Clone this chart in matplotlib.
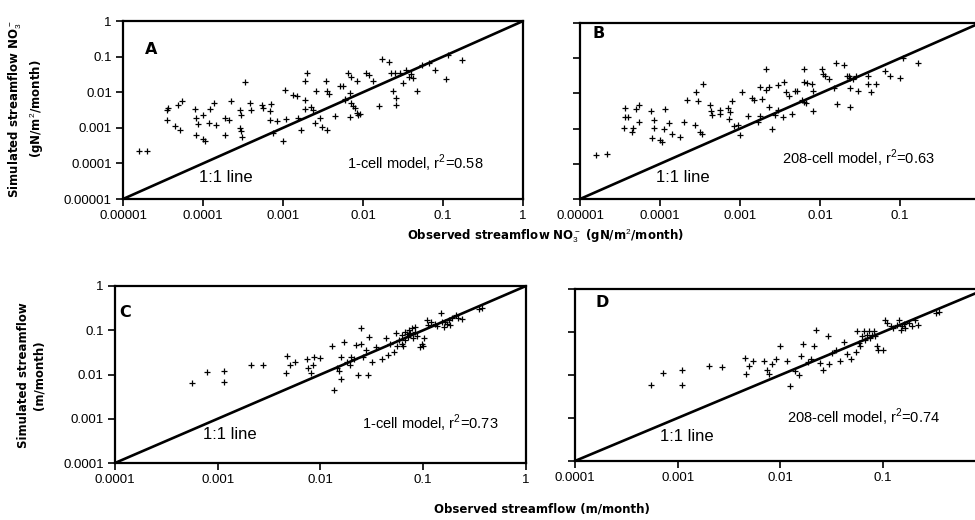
import numpy as np
import matplotlib
matplotlib.use("Agg")
import matplotlib.pyplot as plt

# --- data ---------------------------------------------------------------
# panel A: 1-cell model, NO3 (gN/m2/month)
obs_a = [1.6e-5, 2.0e-5, 3.6e-5, 3.5e-5, 4.9e-5, 5.5e-5, 3.5e-5, 4.5e-5, 5.2e-5, 7.9e-5,
         8.1e-5, 8.7e-5, 1.0e-4, 8.1e-5, 1.0e-4, 1.05e-4, 1.23e-4, 1.38e-4, 1.19e-4, 1.45e-4,
         1.86e-4, 2.1e-4, 1.86e-4, 2.24e-4, 2.9e-4, 3.0e-4, 2.9e-4, 3.0e-4, 3.1e-4, 3.3e-4,
         3.9e-4, 4.0e-4, 5.5e-4, 5.6e-4, 6.8e-4, 7.1e-4, 6.9e-4, 8.3e-4, 7.5e-4, 1.0e-3,
         1.05e-3, 1.1e-3, 1.35e-3, 1.48e-3, 1.55e-3, 1.7e-3, 1.86e-3, 1.9e-3, 1.9e-3, 2.0e-3,
         2.24e-3, 2.4e-3, 2.6e-3, 2.5e-3, 2.9e-3, 3.1e-3, 3.4e-3, 3.5e-3, 3.8e-3, 3.5e-3,
         4.5e-3, 5.1e-3, 5.6e-3, 5.9e-3, 6.5e-3, 6.8e-3, 7.1e-3, 7.5e-3, 7.9e-3, 8.3e-3,
         8.3e-3, 8.7e-3, 6.8e-3, 9.1e-3, 1.1e-2, 1.2e-2, 1.33e-2, 1.6e-2, 1.7e-2, 2.1e-2,
         2.24e-2, 2.4e-2, 2.5e-2, 2.6e-2, 2.6e-2, 2.9e-2, 3.2e-2, 3.4e-2, 3.8e-2, 4.2e-2,
         4.0e-2, 4.7e-2, 5.4e-2, 6.7e-2, 7.9e-2, 0.11, 0.115, 0.17, 6.0e-3, 7.0e-3]
sim_a = [2.2e-4, 2.2e-4, 3.5e-3, 3.2e-3, 4.4e-3, 5.5e-3, 1.7e-3, 1.15e-3, 8.7e-4, 3.3e-3,
         1.9e-3, 1.26e-3, 2.3e-3, 6.3e-4, 4.7e-4, 4.2e-4, 3.3e-3, 5.1e-3, 1.35e-3, 1.2e-3,
         1.86e-3, 1.66e-3, 6.3e-4, 5.5e-3, 3.2e-3, 2.3e-3, 1.0e-3, 7.9e-4, 5.5e-4, 1.9e-2,
         5.1e-3, 3.2e-3, 4.4e-3, 3.5e-3, 2.9e-3, 4.7e-3, 1.66e-3, 1.6e-3, 7.1e-4, 4.2e-4,
         1.17e-2, 1.74e-3, 8.5e-3, 7.6e-3, 1.86e-3, 8.5e-4, 6.2e-3, 3.3e-3, 2.0e-2, 3.4e-2,
         3.8e-3, 3.2e-3, 1.05e-2, 1.35e-3, 1.86e-3, 1.07e-3, 2.1e-2, 1.05e-2, 8.9e-3, 8.7e-4,
         2.1e-3, 1.45e-2, 1.45e-2, 6.2e-3, 3.5e-2, 9.3e-3, 2.75e-2, 4.0e-3, 3.5e-3, 2.0e-2,
         2.6e-3, 2.3e-3, 2.0e-3, 2.4e-3, 3.4e-2, 3.1e-2, 2.1e-2, 4.2e-3, 8.5e-2, 7.2e-2,
         3.5e-2, 1.05e-2, 3.4e-2, 6.8e-3, 4.4e-3, 3.4e-2, 1.8e-2, 4.3e-2, 2.75e-2, 2.5e-2,
         3.2e-2, 1.05e-2, 5.9e-2, 6.5e-2, 4.1e-2, 2.3e-2, 0.11, 8.1e-2, 6.5e-3, 5.0e-3]

# panel B: 208-cell model, NO3
obs_b = [1.6e-5, 2.2e-5, 3.6e-5, 3.6e-5, 3.5e-5, 4.0e-5, 4.6e-5, 4.4e-5, 5.0e-5, 5.4e-5,
         5.4e-5, 7.8e-5, 8.3e-5, 8.5e-5, 7.9e-5, 1.0e-4, 1.05e-4, 1.17e-4, 1.12e-4, 1.3e-4,
         1.4e-4, 1.8e-4, 2.0e-4, 2.2e-4, 2.8e-4, 3.0e-4, 3.4e-4, 2.7e-4, 3.2e-4, 3.3e-4,
         4.2e-4, 4.3e-4, 4.4e-4, 5.6e-4, 5.6e-4, 7.1e-4, 7.4e-4, 7.2e-4, 7.9e-4, 8.3e-4,
         9.3e-4, 1.0e-3, 1.05e-3, 1.26e-3, 1.4e-3, 1.5e-3, 1.7e-3, 1.8e-3, 1.8e-3, 1.9e-3,
         2.1e-3, 2.1e-3, 2.3e-3, 2.3e-3, 2.5e-3, 2.7e-3, 3.0e-3, 3.0e-3, 3.4e-3, 3.5e-3,
         3.8e-3, 4.1e-3, 4.4e-3, 4.8e-3, 5.1e-3, 6.3e-3, 6.3e-3, 6.3e-3, 6.9e-3, 7.9e-3,
         8.1e-3, 8.1e-3, 1.07e-2, 1.1e-2, 1.15e-2, 1.3e-2, 1.5e-2, 1.6e-2, 1.65e-2, 2.0e-2,
         2.2e-2, 2.3e-2, 2.4e-2, 2.4e-2, 2.8e-2, 3.0e-2, 4.0e-2, 4.0e-2, 4.3e-2, 5.0e-2,
         6.5e-2, 7.4e-2, 0.1, 0.11, 0.166, 6.0e-3, 6.6e-3, 2.4e-2, 2.6e-2]
sim_b = [1.8e-4, 1.95e-4, 3.9e-3, 2.1e-3, 1.05e-3, 2.1e-3, 1.05e-3, 7.9e-4, 3.5e-3, 4.8e-3,
         1.55e-3, 3.1e-3, 1.7e-3, 1.05e-3, 5.4e-4, 4.7e-4, 4.2e-4, 3.5e-3, 1.0e-3, 1.4e-3,
         6.8e-4, 5.8e-4, 1.5e-3, 6.3e-3, 1.1e-2, 5.9e-3, 1.8e-2, 1.23e-3, 7.9e-4, 7.2e-4,
         4.8e-3, 3.1e-3, 2.5e-3, 3.3e-3, 2.6e-3, 3.9e-3, 3.0e-3, 1.9e-3, 5.9e-3, 1.2e-3,
         1.26e-3, 6.5e-4, 1.1e-2, 2.3e-3, 7.4e-3, 6.3e-3, 1.55e-3, 2.3e-3, 1.5e-2, 6.8e-3,
         5.0e-2, 1.23e-2, 4.1e-3, 1.5e-2, 1.0e-3, 2.4e-3, 3.3e-3, 1.7e-2, 2.1e-3, 2.1e-2,
         1.1e-2, 8.5e-3, 2.6e-3, 1.2e-2, 1.15e-2, 5.0e-2, 2.1e-2, 5.8e-3, 2.0e-2, 1.8e-2,
         1.15e-2, 3.2e-3, 4.8e-2, 3.6e-2, 3.2e-2, 2.6e-2, 1.4e-2, 7.4e-2, 5.1e-3, 6.3e-2,
         3.2e-2, 3.1e-2, 4.1e-3, 1.45e-2, 3.2e-2, 1.2e-2, 3.2e-2, 1.8e-2, 1.1e-2, 1.9e-2,
         4.3e-2, 3.2e-2, 2.75e-2, 9.8e-2, 7.1e-2, 6.6e-3, 5.5e-3, 2.8e-2, 2.5e-2]

# panel C: 1-cell model, streamflow (m/month)
obs_c = [5.6e-4, 7.8e-4, 1.15e-3, 1.15e-3, 2.1e-3, 2.75e-3, 4.6e-3, 4.7e-3, 5.0e-3, 5.6e-3,
         7.4e-3, 7.6e-3, 8.1e-3, 8.7e-3, 9.8e-3, 8.5e-3, 1.3e-2, 1.35e-2, 1.45e-2, 1.5e-2,
         1.6e-2, 1.6e-2, 1.7e-2, 1.8e-2, 1.95e-2, 2.0e-2, 2.1e-2, 2.2e-2, 2.3e-2, 2.5e-2,
         2.5e-2, 2.6e-2, 2.75e-2, 2.9e-2, 3.0e-2, 3.2e-2, 3.5e-2, 4.0e-2, 4.3e-2, 4.5e-2,
         4.8e-2, 5.2e-2, 5.4e-2, 5.6e-2, 5.8e-2, 6.2e-2, 6.2e-2, 6.3e-2, 6.6e-2, 6.6e-2,
         6.9e-2, 7.1e-2, 7.2e-2, 7.4e-2, 7.8e-2, 7.9e-2, 8.3e-2, 8.3e-2, 8.7e-2, 9.3e-2,
         9.8e-2, 0.10, 0.102, 0.11, 0.112, 0.12, 0.129, 0.135, 0.148, 0.151,
         0.158, 0.163, 0.17, 0.178, 0.182, 0.19, 0.21, 0.22, 0.24, 0.35, 0.37]
sim_c = [6.3e-3, 1.15e-2, 1.2e-2, 6.6e-3, 1.6e-2, 1.6e-2, 1.1e-2, 2.6e-2, 1.6e-2, 1.95e-2,
         2.2e-2, 1.4e-2, 1.1e-2, 2.5e-2, 2.4e-2, 1.6e-2, 4.3e-2, 4.5e-3, 1.4e-2, 1.2e-2,
         2.5e-2, 7.9e-3, 5.4e-2, 1.95e-2, 1.6e-2, 2.5e-2, 2.2e-2, 4.7e-2, 1.0e-2, 0.11,
         4.8e-2, 2.5e-2, 3.5e-2, 1.0e-2, 7.2e-2, 1.95e-2, 4.1e-2, 2.2e-2, 6.6e-2, 2.75e-2,
         4.8e-2, 3.3e-2, 8.5e-2, 4.3e-2, 6.0e-2, 5.0e-2, 7.8e-2, 4.3e-2, 9.3e-2, 6.0e-2,
         8.1e-2, 7.2e-2, 0.10, 8.5e-2, 0.11, 6.8e-2, 9.3e-2, 0.12, 7.6e-2, 4.1e-2,
         5.0e-2, 4.3e-2, 6.6e-2, 0.17, 0.13, 0.155, 0.135, 0.126, 0.24, 0.155,
         0.12, 0.15, 0.135, 0.17, 0.13, 0.19, 0.22, 0.186, 0.178, 0.30, 0.32]

# panel D: 208-cell model, streamflow (m/month)
obs_d = [5.5e-4, 7.2e-4, 1.1e-3, 1.1e-3, 2.0e-3, 2.7e-3, 4.5e-3, 4.6e-3, 4.9e-3, 5.4e-3,
         6.9e-3, 7.4e-3, 7.8e-3, 8.3e-3, 9.1e-3, 9.8e-3, 1.15e-2, 1.23e-2, 1.4e-2, 1.5e-2,
         1.6e-2, 1.65e-2, 1.86e-2, 2.0e-2, 2.1e-2, 2.24e-2, 2.45e-2, 2.6e-2, 2.9e-2, 3.0e-2,
         3.2e-2, 3.5e-2, 3.8e-2, 4.2e-2, 4.4e-2, 4.9e-2, 5.4e-2, 5.5e-2, 5.8e-2, 6.0e-2,
         6.2e-2, 6.5e-2, 6.6e-2, 6.9e-2, 7.2e-2, 7.4e-2, 7.8e-2, 8.1e-2, 8.3e-2, 8.7e-2,
         8.9e-2, 0.10, 0.105, 0.11, 0.118, 0.126, 0.135, 0.141, 0.148, 0.151,
         0.158, 0.163, 0.178, 0.19, 0.204, 0.22, 0.33, 0.35]
sim_d = [6.0e-3, 1.1e-2, 1.3e-2, 5.8e-3, 1.65e-2, 1.5e-2, 2.5e-2, 1.05e-2, 1.65e-2, 2.1e-2,
         2.1e-2, 1.3e-2, 1.05e-2, 1.8e-2, 2.4e-2, 4.7e-2, 2.1e-2, 5.5e-3, 1.23e-2, 1.0e-2,
         2.7e-2, 5.2e-2, 2.0e-2, 2.3e-2, 4.7e-2, 0.11, 1.9e-2, 1.3e-2, 7.9e-2, 1.8e-2,
         3.2e-2, 3.9e-2, 2.1e-2, 6.0e-2, 3.0e-2, 2.3e-2, 3.5e-2, 0.105, 5.5e-2, 4.7e-2,
         7.9e-2, 0.105, 6.6e-2, 8.7e-2, 0.105, 7.2e-2, 8.7e-2, 0.105, 7.9e-2, 4.7e-2,
         3.9e-2, 3.9e-2, 0.19, 0.16, 0.135, 0.123, 0.148, 0.19, 0.112, 0.135,
         0.155, 0.123, 0.162, 0.135, 0.19, 0.148, 0.275, 0.29]

ticks_no3 = [1e-5, 1e-4, 1e-3, 1e-2, 1e-1, 1]
labels_no3 = ["0.00001", "0.0001", "0.001", "0.01", "0.1", "1"]
ticks_q = [1e-4, 1e-3, 1e-2, 1e-1, 1]
labels_q = ["0.0001", "0.001", "0.01", "0.1", "1"]

model_text = ["1-cell model, r$^2$=0.58", "208-cell model, r$^2$=0.63",
              "1-cell model, r$^2$=0.73", "208-cell model, r$^2$=0.74"]

plt.rcParams['font.family'] = ['Liberation Sans', 'DejaVu Sans']
plt.rcParams['mathtext.fontset'] = 'custom'
plt.rcParams['mathtext.rm'] = 'Liberation Sans'

fig = plt.figure(figsize=(9.75, 5.2), dpi=100)

# axes positions in figure fractions [left, bottom, width, height]
ax_a = fig.add_axes([0.1262, 0.6173, 0.4103, 0.3423])
ax_b = fig.add_axes([0.5949, 0.6173, 0.4103, 0.3385])
ax_c = fig.add_axes([0.1179, 0.1096, 0.4215, 0.3404])
ax_d = fig.add_axes([0.5897, 0.1135, 0.4215, 0.3308])

panels = [
    (ax_a, obs_a, sim_a, ticks_no3, labels_no3, "A", True, (0.055, 0.84), (0.19, 0.12), (0.56, 0.20)),
    (ax_b, obs_b, sim_b, ticks_no3, labels_no3, "B", False, (0.03, 0.94), (0.19, 0.12), (0.505, 0.233)),
    (ax_c, obs_c, sim_c, ticks_q, labels_q, "C", True, (0.01, 0.85), (0.214, 0.16), (0.60, 0.226)),
    (ax_d, obs_d, sim_d, ticks_q, labels_q, "D", False, (0.05, 0.92), (0.207, 0.14), (0.516, 0.256)),
]

for i, (ax, obs, sim, ticks, labels, letter, show_y, let_pos, line_pos, mod_pos) in enumerate(panels):
    lo, hi = ticks[0], ticks[-1]
    ax.set_xscale('log')
    ax.set_yscale('log')
    ax.set_xlim(lo, hi)
    ax.set_ylim(lo, hi)
    ax.plot([lo, hi], [lo, hi], color='black', lw=1.9, zorder=2)
    ax.plot(obs, sim, linestyle='none', marker='+', color='black',
            markersize=4.5, markeredgewidth=0.9, zorder=3)

    if show_y:
        ax.set_xticks(ticks)
        ax.set_xticklabels(labels)
        ax.set_yticks(ticks)
        ax.set_yticklabels(labels)
    else:
        ax.set_xticks(ticks[:-1])
        ax.set_xticklabels(labels[:-1])
        ax.set_yticks(ticks)
        ax.set_yticklabels([])
    ax.minorticks_off()
    ax.tick_params(direction='out', length=5, width=1.2, labelsize=9.5, pad=3)
    for sp in ax.spines.values():
        sp.set_linewidth(1.6)

    ax.text(let_pos[0], let_pos[1], letter, transform=ax.transAxes,
            fontsize=11.5, fontweight='bold', family='DejaVu Sans', va='center')
    ax.text(line_pos[0], line_pos[1], "1:1 line", transform=ax.transAxes,
            fontsize=12, va='center')
    ax.text(mod_pos[0], mod_pos[1], model_text[i], transform=ax.transAxes,
            fontsize=10.5, va='center')

lab = dict(fontsize=8.5, fontweight='bold', family='DejaVu Sans', ha='center', va='center')
fig.text(0.027, 0.79, "Simulated streamflow NO$_3^-$\n(gN/m$^2$/month)", rotation=90,
         linespacing=1.3, **lab)
fig.text(0.559, 0.547, "Observed streamflow NO$_3^-$ (gN/m$^2$/month)", **lab)
fig.text(0.032, 0.279, "Simulated streamflow\n(m/month)", rotation=90, linespacing=1.3, **lab)
fig.text(0.556, 0.022, "Observed streamflow (m/month)", **lab)

fig.savefig("out.png", dpi=100)
